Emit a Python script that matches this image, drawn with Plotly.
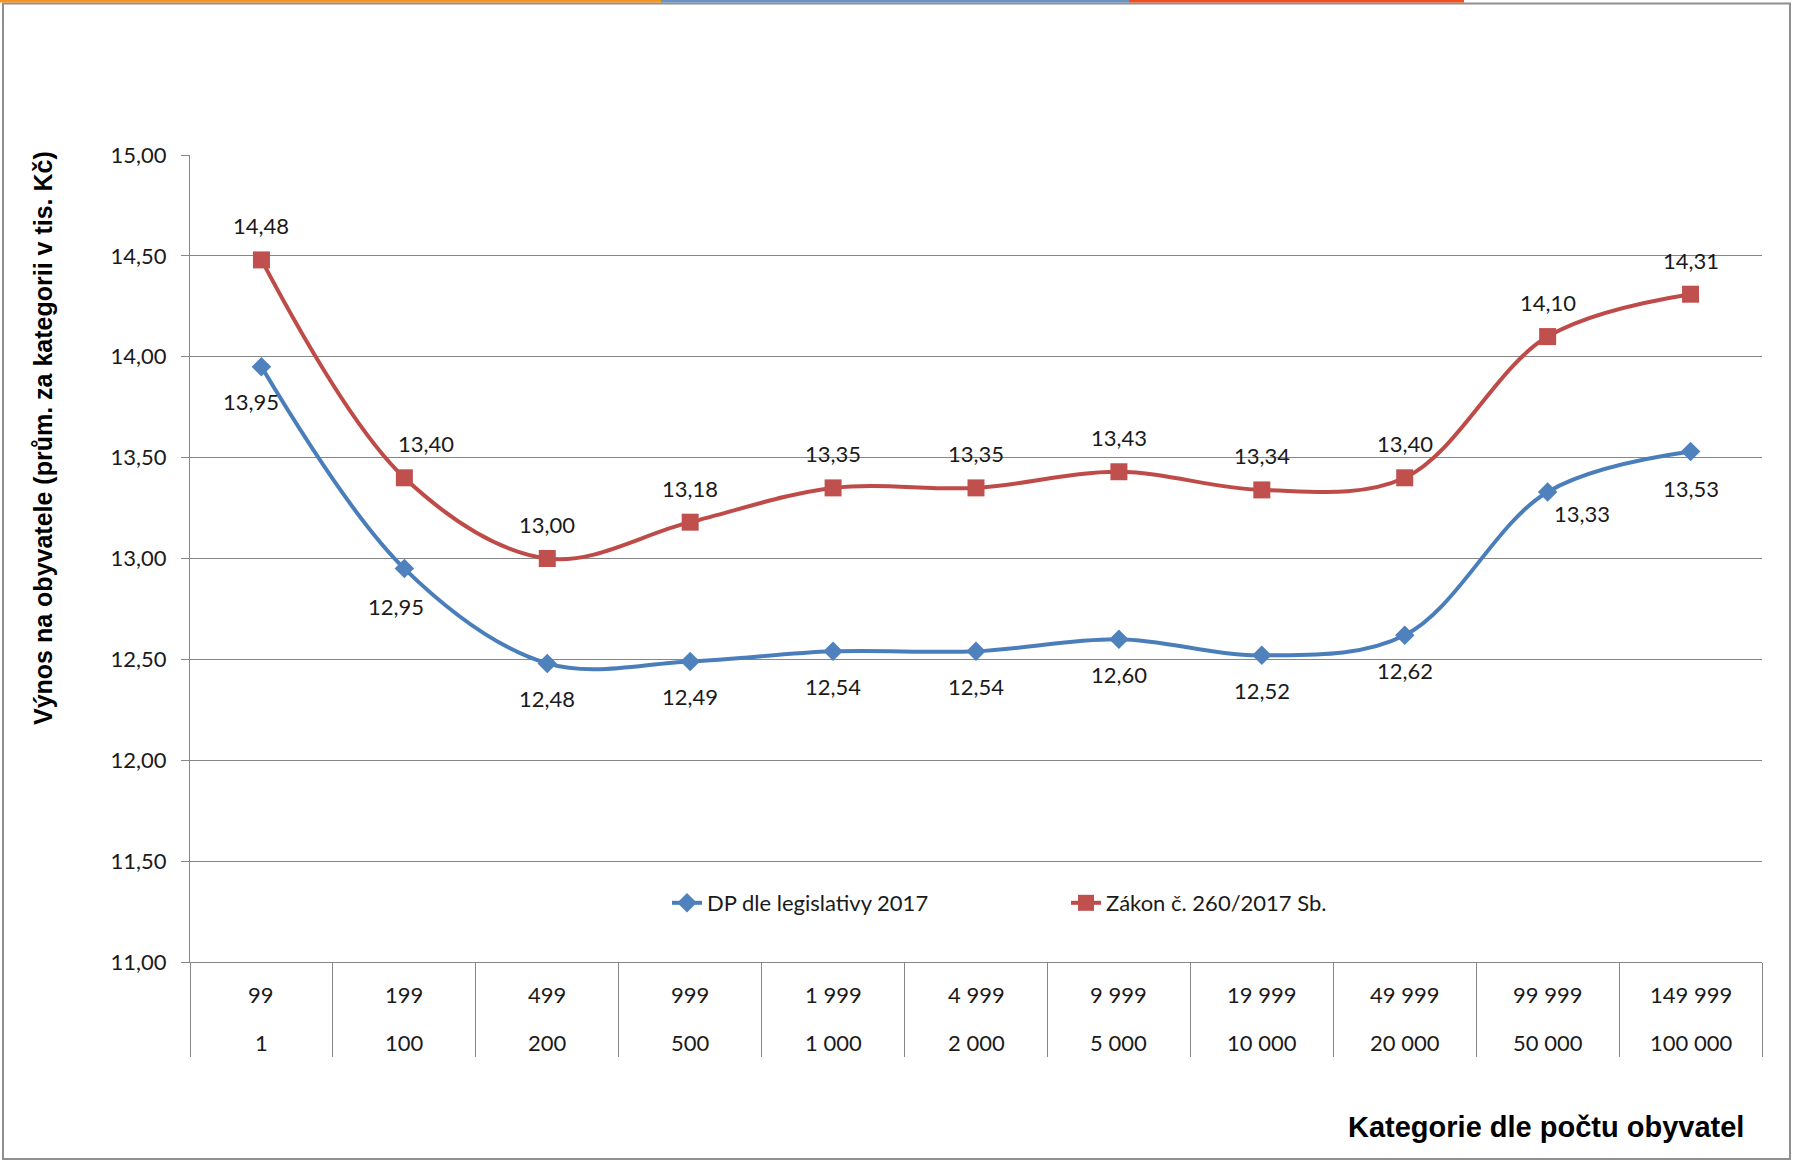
import plotly.graph_objects as go

# ---------------- data ----------------
upper_bounds = ["99", "199", "499", "999", "1 999", "4 999", "9 999", "19 999", "49 999", "99 999", "149 999"]
lower_bounds = ["1", "100", "200", "500", "1 000", "2 000", "5 000", "10 000", "20 000", "50 000", "100 000"]
categories = [f"{lo} – {hi}" for lo, hi in zip(lower_bounds, upper_bounds)]

dp_2017 = [13.95, 12.95, 12.48, 12.49, 12.54, 12.54, 12.60, 12.52, 12.62, 13.33, 13.53]
zakon_260 = [14.48, 13.40, 13.00, 13.18, 13.35, 13.35, 13.43, 13.34, 13.40, 14.10, 14.31]

name_dp = "DP dle legislativy 2017"
name_zakon = "Zákon č. 260/2017 Sb."

y_ticks = [11.0, 11.5, 12.0, 12.5, 13.0, 13.5, 14.0, 14.5, 15.0]

# ---------------- layout geometry ----------------
W, H = 1797, 1160
ML, MR, MT, MB = 190, 35, 155, 198
PW, PH = W - ML - MR, H - MT - MB


def px_x(px):
    return (px - ML) / PW


def px_y(py):
    return (H - MB - py) / PH


BLUE_LINE = "#4A7EBB"
BLUE_MARK = "#4F81BD"
RED_LINE = "#BE4B48"
RED_MARK = "#C0504D"
GRID = "#868686"
TXT = "#1a1a1a"
FONT = "Lato"
FS = 22

fig = go.Figure()
fig.add_trace(go.Scatter(
    x=categories, y=dp_2017, name=name_dp, mode="lines+markers",
    line=dict(color=BLUE_LINE, width=4, shape="spline", smoothing=1),
    marker=dict(symbol="diamond", size=15, color=BLUE_MARK, line=dict(width=0)),
))
fig.add_trace(go.Scatter(
    x=categories, y=zakon_260, name=name_zakon, mode="lines+markers",
    line=dict(color=RED_LINE, width=4, shape="spline", smoothing=1),
    marker=dict(symbol="square", size=17, color=RED_MARK, line=dict(width=0)),
))


def fmt(v):
    return f"{v:.2f}".replace(".", ",")


annotations = []
# data labels: red above, blue below (with a few Excel-like offsets)
red_dx = [0, 22, 0, 0, 0, 0, 0, 0, 0, 0, 0]
blue_dx = [-10, -8, 0, 0, 0, 0, 0, 0, 0, 34, 0]
blue_dy = [-35, -38, -35, -35, -35, -35, -35, -35, -35, -22, -37]
for i, c in enumerate(categories):
    annotations.append(dict(x=c, y=zakon_260[i], xref="x", yref="y", text=fmt(zakon_260[i]),
                            showarrow=False, xshift=red_dx[i], yshift=34,
                            font=dict(family=FONT, size=FS, color=TXT)))
    annotations.append(dict(x=c, y=dp_2017[i], xref="x", yref="y", text=fmt(dp_2017[i]),
                            showarrow=False, xshift=blue_dx[i], yshift=blue_dy[i],
                            font=dict(family=FONT, size=FS, color=TXT)))
    # category table rows
    annotations.append(dict(x=c, y=px_y(994), xref="x", yref="paper", text=upper_bounds[i],
                            showarrow=False, yanchor="middle",
                            font=dict(family=FONT, size=FS, color=TXT)))
    annotations.append(dict(x=c, y=px_y(1042), xref="x", yref="paper", text=lower_bounds[i],
                            showarrow=False, yanchor="middle",
                            font=dict(family=FONT, size=FS, color=TXT)))

# axis titles
annotations.append(dict(x=px_x(43), y=px_y(438), xref="paper", yref="paper",
                        text="Výnos na obyvatele (prům. za kategorii v tis. Kč)",
                        textangle=-90, showarrow=False, xanchor="center", yanchor="middle",
                        font=dict(family="Liberation Sans, Arial", size=25, color="#000",
                                  weight="bold")))
annotations.append(dict(x=px_x(1746), y=px_y(1127), xref="paper", yref="paper",
                        text="Kategorie dle počtu obyvatel",
                        showarrow=False, xanchor="right", yanchor="middle",
                        font=dict(family="Liberation Sans, Arial", size=29, color="#000",
                                  weight="bold")))

shapes = []
# top coloured strips
for x0, x1, col in [(0, 661, "#F7941E"), (661, 1129, "#6A93C3"), (1129, 1464, "#F04E23")]:
    shapes.append(dict(type="rect", xref="paper", yref="paper",
                       x0=px_x(x0), x1=px_x(x1), y0=px_y(2.5), y1=px_y(0),
                       line=dict(width=0), fillcolor=col, layer="above"))
# outer frame
shapes.append(dict(type="rect", xref="paper", yref="paper",
                   x0=px_x(3), x1=px_x(1790), y0=px_y(1159), y1=px_y(3.5),
                   line=dict(color="#8f8f8f", width=2), fillcolor="rgba(0,0,0,0)", layer="below"))

fig.update_layout(
    width=W, height=H,
    margin=dict(l=ML, r=MR, t=MT, b=MB, autoexpand=False),
    paper_bgcolor="white", plot_bgcolor="white",
    separators=", ",
    font=dict(family=FONT, size=FS, color=TXT),
    showlegend=True,
    legend=dict(orientation="h", x=px_x(667), y=px_y(903), xanchor="left", yanchor="middle",
                font=dict(family=FONT, size=FS, color=TXT),
                entrywidth=354, entrywidthmode="pixels",
                bgcolor="rgba(0,0,0,0)", itemclick=False),
    annotations=annotations,
    shapes=shapes,
    xaxis=dict(
        type="category", categoryorder="array", categoryarray=categories,
        range=[-0.5, len(categories) - 0.5],
        showticklabels=False, ticks="outside", tickson="boundaries",
        ticklen=94, tickcolor=GRID, tickwidth=1,
        showline=True, linecolor=GRID, linewidth=1,
        showgrid=False, zeroline=False, fixedrange=True,
    ),
    yaxis=dict(
        range=[11, 15], tickvals=y_ticks, tickformat=".2f",
        ticks="outside", ticklen=8, tickcolor=GRID, tickwidth=1,
        showline=True, linecolor=GRID, linewidth=1,
        showgrid=True, gridcolor=GRID, gridwidth=1,
        zeroline=False, ticklabelstandoff=10,
        tickfont=dict(family=FONT, size=FS, color=TXT), fixedrange=True,
    ),
)

fig.write_html("out.html", config={"displayModeBar": False},
               post_script="document.body.style.margin='0px';")
